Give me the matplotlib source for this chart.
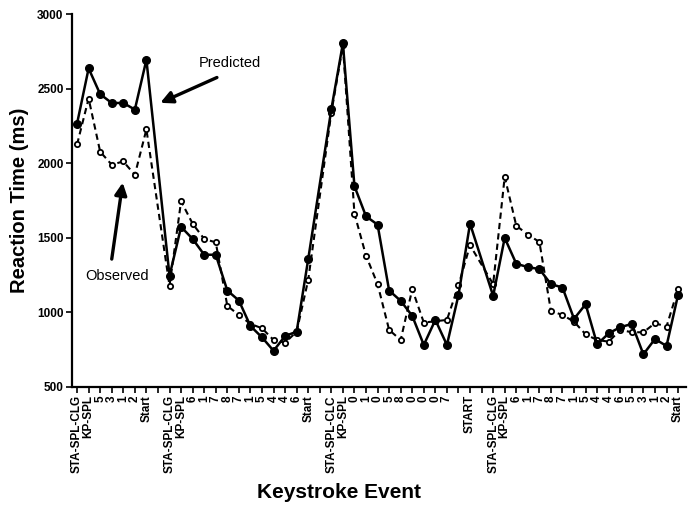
"""Reaction time per keystroke event: predicted vs observed."""

import matplotlib
matplotlib.use("Agg")
import matplotlib.pyplot as plt

LABELS = [
    "STA-SPL-CLG", "KP-SPL", "5", "3", "1", "2", "Start", "",
    "STA-SPL-CLG", "KP-SPL", "6", "1", "7", "8", "7", "1", "5", "4", "4", "6", "Start", "",
    "STA-SPL-CLC", "KP-SPL", "0", "1", "0", "5", "8", "0", "0", "0", "7", "", "START", "",
    "STA-SPL-CLG", "KP-SPL", "6", "1", "7", "8", "7", "1", "5", "4", "4", "6", "5", "3", "1", "2", "Start",
]

PREDICTED = [
    2266, 2636, 2463, 2404, 2404, 2360, 2694, None,
    1245, 1573, 1492, 1386, 1386, 1146, 1079, 908, 832, 742, 841, 870, 1357, None,
    2362, 2804, 1846, 1644, 1588, 1146, 1077, 976, 781, 949, 781, 1115, 1595, None,
    1110, 1499, 1326, 1303, 1290, 1189, 1166, 956, 1054, 785, 859, 900, 922, 718, 821, 774, 1117,
]

OBSERVED = [
    2126, 2434, 2077, 1990, 2012, 1922, 2227, None,
    1178, 1745, 1594, 1492, 1469, 1043, 982, 922, 893, 814, 796, 870, 1218, None,
    2340, 2790, 1662, 1380, 1189, 882, 814, 1155, 931, 940, 949, 1180, 1450, None,
    1189, 1909, 1581, 1521, 1472, 1009, 982, 937, 852, 814, 803, 882, 866, 866, 927, 904, 1157,
]

FONT = "Liberation Sans"


def points(values):
    xs = [i for i, v in enumerate(values) if v is not None]
    ys = [v for v in values if v is not None]
    return xs, ys


def main():
    fig = plt.figure(figsize=(6.91, 5.05), dpi=100)
    ax = fig.add_axes([0.104, 0.234, 0.889, 0.738])

    xp, yp = points(PREDICTED)
    xo, yo = points(OBSERVED)

    ax.plot(xo, yo, color="black", linestyle=(0, (3, 2)), linewidth=1.5,
            marker="o", markersize=3.8, markerfacecolor="white",
            markeredgewidth=1.3, zorder=2)
    ax.plot(xp, yp, color="black", linestyle="-", linewidth=1.8,
            marker="o", markersize=5.5, markerfacecolor="black", zorder=3)

    ax.set_xlim(-0.45, 52.7)
    ax.set_ylim(500, 3000)
    ax.set_yticks([500, 1000, 1500, 2000, 2500, 3000])
    ax.set_xticks(range(len(LABELS)))
    ax.set_xticklabels(LABELS, rotation=90, fontsize=8.5, fontweight="bold",
                       family=FONT)
    for lab in ax.get_yticklabels():
        lab.set_fontsize(8.5)
        lab.set_fontweight("bold")
        lab.set_family(FONT)

    ax.spines["top"].set_visible(False)
    ax.spines["right"].set_visible(False)
    ax.spines["left"].set_linewidth(1.6)
    ax.spines["bottom"].set_linewidth(1.6)
    ax.tick_params(axis="x", length=4, width=1.2, pad=2)
    ax.tick_params(axis="y", length=4, width=1.2, pad=2)

    ax.set_ylabel("Reaction Time (ms)", fontsize=14.5, fontweight="bold",
                  family=FONT, labelpad=6)
    fig.text(0.49, 0.024, "Keystroke Event", fontsize=15, fontweight="bold",
             family=FONT, ha="center", va="center")

    arrow = dict(arrowstyle="-|>", color="black", lw=2.4,
                 mutation_scale=18, shrinkA=0, shrinkB=0)
    ax.text(13.2, 2672, "Predicted", fontsize=10.5, family=FONT,
            ha="center", va="center")
    ax.annotate("", xy=(7.2, 2405), xytext=(12.1, 2575), arrowprops=arrow)
    ax.text(3.46, 1245, "Observed", fontsize=10.5, family=FONT,
            ha="center", va="center")
    ax.annotate("", xy=(3.95, 1870), xytext=(3.0, 1357), arrowprops=arrow)

    fig.savefig("out.png", dpi=100, facecolor="white")


if __name__ == "__main__":
    main()
